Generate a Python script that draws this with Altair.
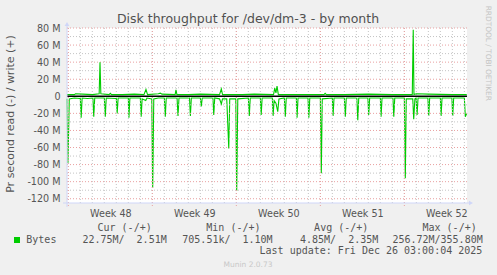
import altair as alt
import pandas as pd

# ---------------- data ----------------
# x = days since Monday 2025-11-24 00:00 (start of ISO week 48); values in MB/s
read_days = [-0.11, -0.03, 0.08, 0.5, 1.0, 1.07, 1.15, 1.6, 2.05, 2.12, 2.2, 3.0, 3.08, 3.16,
             4.0, 4.07, 4.15, 5.0, 5.05, 5.13, 6.0, 6.07, 6.15, 6.45, 6.55, 6.95, 7.03, 7.12,
             7.5, 8.0, 8.08, 8.16, 9.06, 9.14, 9.22, 10.1, 10.17, 10.25, 11.0, 11.08, 11.16,
             12.05, 12.12, 12.2, 12.6, 12.75, 12.85, 13.2, 13.37, 13.45, 13.95, 14.03, 14.12,
             15.0, 15.08, 15.16, 16.0, 16.07, 16.15, 17.0, 17.06, 17.15, 17.3, 17.45, 17.55,
             18.0, 18.08, 18.16, 19.0, 19.06, 19.14, 19.97, 20.04, 20.12, 21.0, 21.08, 21.16,
             22.0, 22.06, 22.14, 23.0, 23.08, 23.16, 24.04, 24.12, 24.2, 24.96, 25.03, 25.11,
             26.0, 26.06, 26.14, 27.05, 27.12, 27.2, 28.0, 28.08, 28.16, 28.7, 28.78, 28.88,
             28.98, 29.06, 29.14, 29.96, 30.03, 30.11, 31.0, 31.06, 31.14, 31.96, 32.03, 32.11,
             33.0, 33.08, 33.2]
read_vals = [-3, -78, -3, -2, -2.5, -25, -2, -2.5, -2, -24, -2, -2, -24, -2,
             -2.5, -20, -2, -2, -25, -2, -2, -24, -3, -5, -2, -3, -107, -3,
             -2, -2, -24, -2, -2, -23, -2, -2, -23, -2, -2, -12, -2,
             -2, -22, -2, -3, -9, -3, -3, -61, -3, -3, -111, -3,
             -2, -23, -2, -2, -22, -2, -2, -23, -5, -8, -18, -3,
             -2, -24, -2, -2, -25, -2, -2, -25, -2, -2, -90, -3,
             -2, -23, -2, -2, -24, -2, -2, -28, -2, -2, -22, -2,
             -2, -24, -2, -2, -24, -2, -2, -96, -3, -3, -27, -3,
             -2, -22, -2, -2, -23, -2, -2, -23, -2, -2, -23, -2,
             -2, -24, -20]

write_days = [-0.11, 0.5, 0.6, 1.2, 2.0, 2.57, 2.64, 2.71, 3.4, 3.5, 3.6, 4.5, 5.5, 6.3,
              6.47, 6.6, 7.5, 7.67, 7.8, 8.9, 8.97, 9.05, 10.0, 11.0, 12.6, 12.75, 12.85,
              14.5, 15.5, 17.1, 17.2, 17.3, 17.39, 17.5, 18.5, 20.0, 21.3, 21.4, 21.5, 23.0,
              25.0, 27.0, 28.66, 28.74, 28.8, 29.0, 30.0, 32.0, 33.2]
write_vals = [2, 2, 3, 2.5, 2, 3, 40, 3, 2, 3.5, 2, 2, 2.5, 2,
              8, 2, 3, 3.7, 2.5, 2, 7.6, 2, 2, 2.5, 2, 8.6, 2,
              2, 2.5, 2, 9.6, 4, 12, 2, 2, 2, 2, 3.5, 2, 2,
              2.5, 2, 2, 78, 2, 3, 2.5, 2, 2]

day_ticks = list(range(0, 34))
week_starts = [0, 7, 14, 21, 28]
week_mid = [3.5, 10.5, 17.5, 24.5, 31.5]
y_labels = [-120, -100, -80, -60, -40, -20, 0, 20, 40, 60, 80]
y_minor = [-110, -90, -70, -50, -30, -10, 10, 30, 50, 70]
y_major = [-120, -100, -80, -60, -40, -20, 20, 40, 60, 80]

title_text = "Disk throughput for /dev/dm-3 - by month"
ytitle_text = "Pr second read (-) / write (+)"
legend_headers = ["Cur (-/+)", "Min (-/+)", "Avg (-/+)", "Max (-/+)"]
legend_values = ["22.75M/  2.51M", "705.51k/  1.10M", "4.85M/  2.35M", "256.72M/355.80M"]
series_name = "Bytes"
last_update = "Last update: Fri Dec 26 03:00:04 2025"
munin_text = "Munin 2.0.73"
rrd_text = "RRDTOOL / TOBI OETIKER"

# ---------------- chart ----------------
GREEN = "#00CC00"
AXIS = "#CFD6F8"
MINOR = "#C4C4C4"
MAJOR = "#E9A0A0"
FONT = "DejaVu Sans"
MONO = "DejaVu Sans Mono"
TXT = "#555555"

xscale = alt.Scale(domain=[-0.11, 33.22], nice=False, zero=False)
yscale = alt.Scale(domain=[-125, 80], nice=False, zero=False)

x_axis = alt.Axis(values=week_mid, labelExpr="'Week ' + (48 + floor(datum.value / 7))",
                  grid=False, ticks=False, domain=False, title=None, labelFlush=False,
                  labelFont=FONT, labelFontSize=9.6, labelColor=TXT, labelPadding=5)
y_axis = alt.Axis(values=y_labels, labelExpr="datum.value == 0 ? '0' : datum.value + ' M'",
                  grid=False, ticks=False, domain=False, title=None, labelPadding=7,
                  labelFont=FONT, labelFontSize=9.6, labelColor=TXT, labelFlush=False)

X = lambda: alt.X("day:Q", scale=xscale, axis=x_axis)
Y = lambda: alt.Y("val:Q", scale=yscale, axis=y_axis)

read_df = pd.DataFrame({"day": read_days, "val": read_vals})
write_df = pd.DataFrame({"day": write_days, "val": write_vals})

read_line = alt.Chart(read_df).mark_line(color=GREEN, strokeWidth=1.1).encode(
    x=X(), y=Y(), order="day:Q")
write_line = alt.Chart(write_df).mark_line(color=GREEN, strokeWidth=1.1).encode(
    x=X(), y=Y(), order="day:Q")

vgrid_minor = alt.Chart(pd.DataFrame({"day": day_ticks})).mark_rule(
    color=MINOR, strokeWidth=1, strokeDash=[1, 2]).encode(x=X())
vgrid_major = alt.Chart(pd.DataFrame({"day": week_starts})).mark_rule(
    color=MAJOR, strokeWidth=1, strokeDash=[1, 2]).encode(
    x=X(), y=alt.value(0), y2=alt.value(178))
hgrid_minor = alt.Chart(pd.DataFrame({"val": y_minor})).mark_rule(
    color=MINOR, strokeWidth=1, strokeDash=[1, 2]).encode(y=Y())
hgrid_major = alt.Chart(pd.DataFrame({"val": y_major})).mark_rule(
    color=MAJOR, strokeWidth=1, strokeDash=[1, 2]).encode(y=Y())
zero_rule = alt.Chart(pd.DataFrame({"val": [0]})).mark_rule(
    color="black", strokeWidth=1.4).encode(y=Y())

one = alt.Data(values=[{}])

def deco_rule(x, x2, y, y2):
    return alt.Chart(one).mark_rule(color=AXIS, strokeWidth=1).encode(
        x=alt.value(x), x2=alt.value(x2), y=alt.value(y), y2=alt.value(y2))

def arrow(shape, x, y):
    return alt.Chart(one).mark_point(shape=shape, filled=True, color=AXIS, size=22, opacity=1).encode(
        x=alt.value(x), y=alt.value(y))

def txt(s, x, y, size=10, font=FONT, color=TXT, align="left", angle=0):
    s = s.replace(" ", "\u00a0") if font == MONO else s
    return alt.Chart(one).mark_text(
        text=s, font=font, fontSize=size, color=color, align=align,
        baseline="middle", angle=angle
    ).encode(x=alt.value(x), y=alt.value(y))

layers = [
    read_line, vgrid_minor, hgrid_minor, vgrid_major, hgrid_major,
    write_line, zero_rule,
    deco_rule(-4, 403, 175, 175),
    deco_rule(0, 0, -4, 179),
    arrow("triangle-up", 0, -4),
    arrow("triangle-right", 404, 175),
    txt(title_text, 181, -9.5, size=12.5, color="#505050", align="center"),
    txt(ytitle_text, -56, 86, size=11, angle=270, align="center"),
    txt(legend_headers[0], 84.7, 199.5, size=10, font=MONO, align="right"),
    txt(legend_headers[1], 193.5, 199.5, size=10, font=MONO, align="right"),
    txt(legend_headers[2], 301.3, 199.5, size=10, font=MONO, align="right"),
    txt(legend_headers[3], 409.7, 199.5, size=10, font=MONO, align="right"),
    alt.Chart(one).mark_square(color=GREEN, size=36, opacity=1).encode(
        x=alt.value(-50), y=alt.value(212)),
    txt(series_name, -40.7, 211.5, size=10, font=MONO),
    txt(legend_values[0], 99.7, 211.5, size=10, font=MONO, align="right"),
    txt(legend_values[1], 115.3, 211.5, size=10, font=MONO, align="left"),
    txt(legend_values[2], 311.3, 211.5, size=10, font=MONO, align="right"),
    txt(legend_values[3], 415.7, 211.5, size=10, font=MONO, align="right"),
    txt(last_update, 415.3, 223, size=10, font=MONO, align="right"),
    txt(munin_text, 181, 236.5, size=7.5, color="#C8C8C8", align="center"),
    txt(rrd_text, 420.7, 25.3, size=7.4, color="#C4C4C4", align="center", angle=90),
]

chart = alt.layer(*layers).properties(
    width=400,
    height=175,
    padding={"left": 67, "top": 28, "right": 30, "bottom": 72},
    autosize=alt.AutoSizeParams(type="none"),
).configure(background="#F0F0F0").configure_view(fill="white", strokeWidth=0)

chart.save("out.html", embed_options={"renderer": "svg", "actions": False})
